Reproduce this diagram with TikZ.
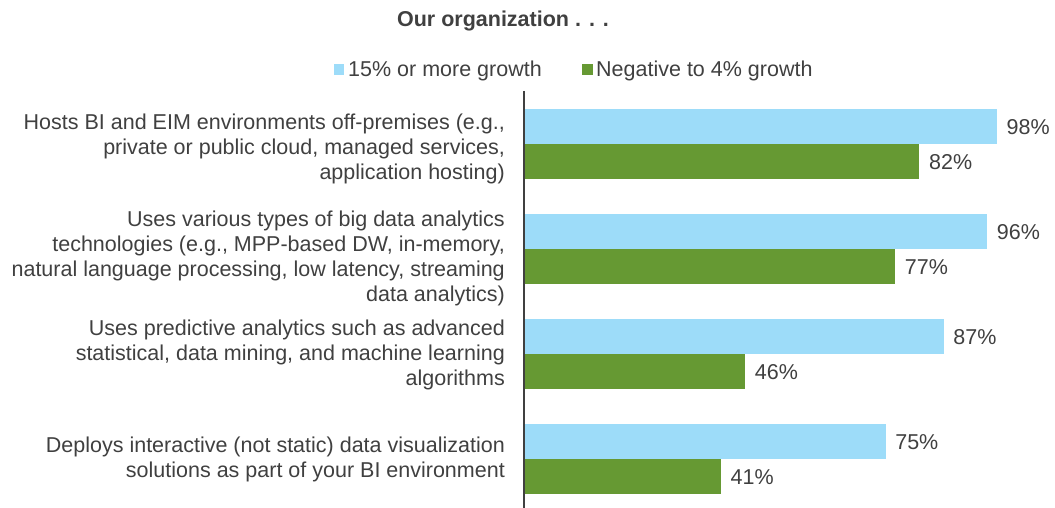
\documentclass[tikz,border=0pt]{standalone}
\usepackage{fontspec}
\setmainfont{Liberation Sans}
\definecolor{barblue}{HTML}{9DDCF9}
\definecolor{bargreen}{HTML}{669933}
\definecolor{txt}{HTML}{404040}
\begin{document}
\begin{tikzpicture}[x=1pt,y=-1pt,
  lbl/.style={font=\fontsize{21.5}{25}\selectfont,text=txt,inner sep=0pt},
  cat/.style={lbl,align=right,anchor=north east},
  val/.style={lbl,anchor=base west},
  bblue/.style={fill=barblue,draw=none},
  bgreen/.style={fill=bargreen,draw=none}]
\fill[white] (0,0) rectangle (1055,508);
\useasboundingbox (0,0) rectangle (1055,508);
% title and legend
\node[lbl,font=\fontsize{21.5}{25}\selectfont\bfseries,anchor=base] (title) at (503,26.5) {Our organization . . .};
\fill[barblue] (334,64) rectangle (344,75);
\node[val] (leg1) at (348,77) {15\% or more growth};
\fill[bargreen] (582,64) rectangle (593,75);
\node[val] (leg2) at (596,77) {Negative to 4\% growth};
% bars
\foreach \g/\a/\b in {0/98/82,1/96/77,2/87/46,3/75/41}{
  \pgfmathsetmacro{\yt}{109+105*\g}
  \pgfmathsetmacro{\ea}{522.6+4.84*\a}
  \pgfmathsetmacro{\eb}{522.6+4.84*\b}
  \fill[bblue] (523,\yt) rectangle (\ea,\yt+35);
  \fill[bgreen] (523,\yt+35) rectangle (\eb,\yt+70);
  \node[val] (va\g) at (\ea+9.5,\yt+17.5+7.7) {\a\%};
  \node[val] (vb\g) at (\eb+9.5,\yt+52.5+7.7) {\b\%};
}
% axis
\coordinate (axtop) at (524,91);
\coordinate (axbot) at (524,508);
\draw[txt,line width=1.3pt] (axtop) -- (axbot);
% category labels
\node[cat] (c1) at (505,113.5) {Hosts BI and EIM environments off-premises (e.g.,\\private or public cloud, managed services,\\application hosting)};
\node[cat] (c2) at (505,211) {Uses various types of big data analytics\\technologies (e.g., MPP-based DW, in-memory,\\natural language processing, low latency, streaming\\data analytics)};
\node[cat] (c3) at (505,319.5) {Uses predictive analytics such as advanced\\statistical, data mining, and machine learning\\algorithms};
\node[cat] (c4) at (505,437) {Deploys interactive (not static) data visualization\\solutions as part of your BI environment};
\end{tikzpicture}
\end{document}
